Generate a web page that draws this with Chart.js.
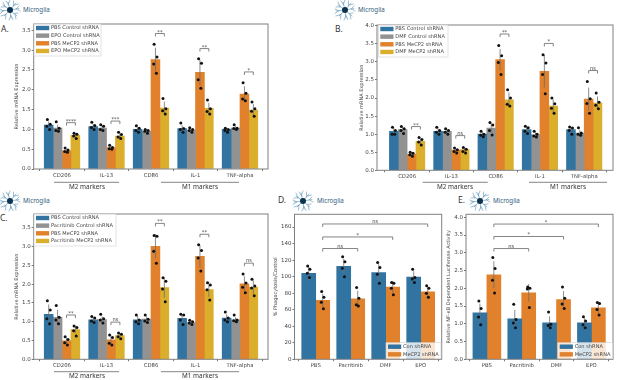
<!DOCTYPE html>
<html lang="en">
<head>
<meta charset="UTF-8">
<title>Microglia mRNA expression panels</title>
<script src="https://cdn.jsdelivr.net/npm/chart.js"></script>
<style>
    body { margin: 0; background: #fff; width: 617px; height: 380px; overflow: hidden; position: relative; }
    canvas { position: absolute; left: 0; top: 0; }
    .letter { position: absolute; font: 8.5px "Noto Sans", sans-serif; color: #333; line-height: 10px; }
    .cell { position: absolute; font: 6.2px "Noto Sans", sans-serif; color: #2f5d7c; line-height: 8px; }
    svg.icon { position: absolute; width: 22px; height: 22px; }
</style>
</head>
<body>
<svg width="0" height="0" style="position:absolute">
    <symbol id="microglia" viewBox="-11 -11 22 22">
        <g stroke="#5b93b5" stroke-width="0.6" fill="none" stroke-linecap="round">
            <path d="M0 0L-2 -8M-1.3 -5L-4 -9M-1.5 -6L0 -10"/>
            <path d="M0 0L6 -7M3.5 -4L3.5 -9M4.5 -5L8.5 -6"/>
            <path d="M0 0L9 -1.5M6 -1L9 -4M6.5 -1L10 1"/>
            <path d="M0 0L7 6M4 3.5L8 3M5 4.5L6 9"/>
            <path d="M0 0L1 8M.6 5L3 9.5M.8 6L-1 10"/>
            <path d="M0 0L-6 6M-4 4L-4.5 9M-4.5 4.5L-9 6"/>
            <path d="M0 0L-9 1M-6 .6L-10 3.5M-6.5 .7L-10 -1"/>
            <path d="M0 0L-7 -5M-4.5 -3.2L-9 -3M-5 -3.6L-7 -8"/>
        </g>
        <circle r="3" fill="#0b3350"/>
    </symbol>
</svg>
<div id="page"></div>
<script>
    // categories and legends
    const markerLabels = ['CD206', 'IL-13', 'CD86', 'IL-1', 'TNF-alpha'];
    const treatmentLabels = ['PBS', 'Pacritinib', 'DMF', 'EPO'];
    const legendA = ['PBS Control shRNA', 'EPO Control shRNA', 'PBS MeCP2 shRNA', 'EPO MeCP2 shRNA'];
    const legendB = ['PBS Control shRNA', 'DMF Control shRNA', 'PBS MeCP2 shRNA', 'DMF MeCP2 shRNA'];
    const legendC = ['PBS Control shRNA', 'Pacritinib Control shRNA', 'PBS MeCP2 shRNA', 'Pacritinib MeCP2 shRNA'];
    const legendDE = ['Con shRNA', 'MeCP2 shRNA'];

    // y tick labels
    const ticks35 = ['0.0', '0.5', '1.0', '1.5', '2.0', '2.5', '3.0', '3.5'];
    const ticks40 = ['0.0', '0.5', '1.0', '1.5', '2.0', '2.5', '3.0', '3.5', '4.0'];
    const ticks160 = ['0', '20', '40', '60', '80', '100', '120', '140', '160'];

    // panel A: one row per marker, one column per series
    const meansA = [[1.11, 1.03, 0.46, 0.85], [1.07, 1.03, 0.54, 0.83], [1.00, 0.95, 2.76, 1.54], [1.02, 0.98, 2.44, 1.53], [1.00, 1.03, 1.89, 1.49]];
    const errorsA = [[0.09, 0.09, 0.04, 0.05], [0.07, 0.07, 0.04, 0.07], [0.06, 0.04, 0.30, 0.16], [0.09, 0.04, 0.32, 0.14], [0.04, 0.05, 0.20, 0.15]];
    const pointsA = [
        [[1.25, 1.13, 1.08, 1.00], [1.19, 1.03, 0.97, 0.95], [0.53, 0.48, 0.44, 0.42], [0.90, 0.88, 0.83, 0.77]],
        [[1.18, 1.10, 1.05, 1.00], [1.12, 1.08, 1.00, 0.97], [0.60, 0.54, 0.51, 0.50], [0.93, 0.87, 0.81, 0.77]],
        [[1.09, 1.03, 0.97, 0.93], [1.00, 0.97, 0.95, 0.90], [3.15, 2.83, 2.65, 2.42], [1.78, 1.52, 1.47, 1.39]],
        [[1.16, 1.02, 1.00, 0.93], [1.04, 1.00, 0.97, 0.93], [2.78, 2.67, 2.25, 2.04], [1.74, 1.52, 1.45, 1.39]],
        [[1.03, 1.00, 0.97, 0.93], [1.12, 1.03, 1.02, 1.00], [2.18, 1.91, 1.77, 1.72], [1.69, 1.52, 1.46, 1.33]]
    ];
    const bracketTopsA = [1.17, 1.21, 3.42, 3.04, 2.45];
    const bracketTextA = ['****', '***', '**', '**', '*'];

    // panel B
    const meansB = [[1.08, 1.13, 0.44, 0.80], [1.08, 1.08, 0.56, 0.57], [1.00, 1.17, 3.06, 1.95], [1.13, 0.98, 2.74, 1.78], [1.13, 1.03, 1.97, 1.86]];
    const errorsB = [[0.09, 0.08, 0.04, 0.07], [0.08, 0.06, 0.05, 0.06], [0.06, 0.14, 0.30, 0.20], [0.09, 0.07, 0.45, 0.18], [0.08, 0.09, 0.32, 0.18]];
    const pointsB = [
        [[1.19, 1.10, 1.00, 1.00], [1.21, 1.15, 1.10, 1.02], [0.50, 0.47, 0.43, 0.39], [0.91, 0.85, 0.78, 0.70]],
        [[1.19, 1.10, 1.05, 1.00], [1.15, 1.10, 1.05, 1.00], [0.62, 0.57, 0.52, 0.48], [0.63, 0.58, 0.52, 0.48]],
        [[1.08, 1.00, 0.97, 0.93], [1.32, 1.25, 1.10, 0.98], [3.45, 3.17, 2.98, 2.65], [2.23, 2.00, 1.83, 1.78]],
        [[1.22, 1.18, 1.08, 1.02], [1.08, 1.00, 0.95, 0.92], [3.20, 2.97, 2.65, 2.12], [2.00, 1.84, 1.72, 1.58]],
        [[1.20, 1.17, 1.10, 1.00], [1.18, 1.03, 1.00, 0.97], [2.46, 1.98, 1.85, 1.58], [2.14, 1.88, 1.80, 1.70]]
    ];
    const bracketTopsB = [1.21, 0.96, 3.77, 3.51, 2.76];
    const bracketTextB = ['**', 'ns', '**', '*', 'ns'];

    // panel C
    const meansC = [[1.20, 1.12, 0.49, 0.79], [1.05, 1.06, 0.52, 0.63], [1.05, 1.07, 3.01, 1.91], [1.09, 0.98, 2.74, 1.86], [1.10, 1.05, 2.01, 1.92]];
    const errorsC = [[0.26, 0.20, 0.08, 0.10], [0.06, 0.08, 0.12, 0.06], [0.10, 0.07, 0.32, 0.27], [0.11, 0.05, 0.30, 0.20], [0.10, 0.07, 0.20, 0.18]];
    const pointsC = [
        [[1.56, 1.31, 1.08, 0.95], [1.43, 1.12, 1.05, 0.95], [0.60, 0.53, 0.44, 0.38], [0.89, 0.85, 0.76, 0.62]],
        [[1.14, 1.10, 1.02, 0.98], [1.20, 1.08, 1.05, 0.97], [0.65, 0.58, 0.43, 0.38], [0.70, 0.67, 0.60, 0.55]],
        [[1.18, 1.05, 1.00, 0.95], [1.18, 1.07, 1.02, 0.98], [3.30, 3.28, 2.88, 2.56], [2.17, 2.08, 1.87, 1.53]],
        [[1.20, 1.18, 1.05, 0.93], [1.04, 1.00, 0.97, 0.93], [3.05, 2.90, 2.70, 2.35], [2.04, 1.98, 1.85, 1.58]],
        [[1.26, 1.10, 1.05, 1.00], [1.18, 1.05, 1.03, 1.00], [2.27, 2.03, 1.92, 1.77], [2.13, 1.95, 1.90, 1.69]]
    ];
    const bracketTopsC = [1.18, 0.99, 3.62, 3.33, 2.56];
    const bracketTextC = ['**', 'ns', '**', '**', 'ns'];

    // panel D: one row per treatment
    const meansD = [[104, 71.4], [112.5, 73], [105, 87.5], [99.6, 81.5]];
    const errorsD = [[8, 8], [9, 10], [10, 7], [7, 6]];
    const pointsD = [
        [[113, 109, 104, 99], [82, 75, 69, 61]],
        [[124, 118, 110, 100], [87, 74, 66, 64.5]],
        [[117, 111, 103, 92], [93, 92, 86, 78]],
        [[109, 99, 97, 93], [89, 86, 80, 75]]
    ];
    const bracketTopsD = [134, 148, 163.7];
    const bracketTextD = ['ns', '*', 'ns'];

    // panel E
    const meansE = [[1.31, 2.38], [1.14, 1.87], [1.03, 1.68], [1.03, 1.45]];
    const errorsE = [[0.26, 0.38], [0.25, 0.25], [0.18, 0.24], [0.13, 0.15]];
    const pointsE = [
        [[1.64, 1.43, 1.19, 0.97], [2.87, 2.56, 2.23, 1.87]],
        [[1.55, 1.12, 1.02, 0.89], [2.04, 2.00, 1.98, 1.46]],
        [[1.33, 0.99, 0.95, 0.89], [2.04, 1.72, 1.56, 1.43]],
        [[1.20, 1.08, 0.97, 0.89], [1.60, 1.57, 1.40, 1.25]]
    ];
    const bracketTopsE = [3.12, 3.46, 3.81];
    const bracketTextE = ['ns', '*', '*'];

    const fourColors = ['#3274a1', '#929292', '#e1812c', '#dbae2c'];
    const twoColors = ['#3274a1', '#e1812c'];
    const fourOffsets = [-0.3, -0.1, 0.1, 0.3];
    const twoOffsets = [-0.2, 0.2];
    const pointJitter = [-0.03, 0.035, -0.04, 0.02];
    const textColor = '#444';
    const fontFamily = '"DejaVu Sans", sans-serif';

    function markerBrackets(tops, text) {
        return tops.map((y, g) => ({ g1: g, s1: 2, g2: g, s2: 3, y: y, text: text[g] }));
    }
    function treatmentBrackets(tops, text) {
        return tops.map((y, i) => ({ g1: 0, s1: 1, g2: i + 1, s2: 1, y: y, text: text[i] }));
    }

    const panels = [
        {
            box: { l: 33.7, t: 24, r: 268, b: 169 }, axisW: 20, yMax: 3.66, yTicks: ticks35, xMin: -0.637, xMax: 4.63,
            labels: markerLabels, offsets: fourOffsets, colors: fourColors, yTitle: 'Relative mRNA Expression',
            means: meansA, errors: errorsA, points: pointsA, brackets: markerBrackets(bracketTopsA, bracketTextA),
            legend: { x: 34, y: 24, w: 67, h: 32, names: legendA },
            groups: [{ text: 'M2 markers', x1: 54, x2: 119, y: 182.3, tx: 87 }, { text: 'M1 markers', x1: 161, x2: 239, y: 182.3, tx: 200 }]
        },
        {
            box: { l: 377, t: 25, r: 613, b: 170.3 }, axisW: 18, yMax: 4.02, yTicks: ticks40, xMin: -0.68, xMax: 4.65,
            labels: markerLabels, offsets: fourOffsets, colors: fourColors, yTitle: 'Relative mRNA Expression',
            means: meansB, errors: errorsB, points: pointsB, brackets: markerBrackets(bracketTopsB, bracketTextB),
            legend: { x: 378.3, y: 25, w: 69.7, h: 32, names: legendB },
            groups: [{ text: 'M2 markers', x1: 422.7, x2: 487.7, y: 182.3, tx: 455 }, { text: 'M1 markers', x1: 529, x2: 607, y: 182.3, tx: 568 }]
        },
        {
            box: { l: 33.7, t: 214, r: 268, b: 359.3 }, axisW: 20, yMax: 3.87, yTicks: ticks35, xMin: -0.637, xMax: 4.63,
            labels: markerLabels, offsets: fourOffsets, colors: fourColors, yTitle: 'Relative mRNA Expression',
            means: meansC, errors: errorsC, points: pointsC, brackets: markerBrackets(bracketTopsC, bracketTextC),
            legend: { x: 34, y: 214, w: 82, h: 32, names: legendC },
            groups: [{ text: 'M2 markers', x1: 54, x2: 119, y: 371.7, tx: 87 }, { text: 'M1 markers', x1: 161, x2: 239, y: 371.7, tx: 200 }]
        },
        {
            box: { l: 294.5, t: 214.3, r: 441.7, b: 359.3 }, axisW: 21.5, yMax: 175.4, yTicks: ticks160, xMin: -0.606, xMax: 3.6,
            labels: treatmentLabels, offsets: twoOffsets, colors: twoColors, yTitle: '% Phagocytosis/Control',
            means: meansD, errors: errorsD, points: pointsD, brackets: treatmentBrackets(bracketTopsD, bracketTextD),
            legend: { x: 386, y: 342.7, w: 55, h: 15.8, names: legendDE },
            groups: []
        },
        {
            box: { l: 466, t: 214.3, r: 613.7, b: 359.3 }, axisW: 20, yMax: 4.085, yTicks: ticks40, xMin: -0.6, xMax: 3.62,
            labels: treatmentLabels, offsets: twoOffsets, colors: twoColors, yTitle: 'Relative NF-κB Dependent Luciferase Activity',
            means: meansE, errors: errorsE, points: pointsE, brackets: treatmentBrackets(bracketTopsE, bracketTextE),
            legend: { x: 557.7, y: 342.7, w: 55, h: 15.8, names: legendDE },
            groups: []
        }
    ];

    const annotations = [
        { letter: 'A.', lx: 1, ly: 24, ix: 10, iy: 10, tx: 23 },
        { letter: 'B.', lx: 335, ly: 24, ix: 345, iy: 10, tx: 358 },
        { letter: 'C.', lx: 0, ly: 213, ix: 10, iy: 200.5, tx: 23 },
        { letter: 'D.', lx: 278, ly: 195, ix: 303, iy: 200.5, tx: 317 },
        { letter: 'E.', lx: 458, ly: 195, ix: 480, iy: 200.5, tx: 493 }
    ];

    const panelDecor = {
        id: 'panelDecor',
        // error bars go under the points dataset, which is drawn last
        beforeDatasetDraw(chart, args) {
            if (args.index !== 0) return;
            const p = chart.config.options.plugins.panelDecor.panel;
            const ctx = chart.ctx, x = chart.scales.x, y = chart.scales.y;
            ctx.save();
            ctx.strokeStyle = '#6e6e6e';
            ctx.lineWidth = 0.8;
            p.means.forEach((row, g) => row.forEach((m, s) => {
                const px = x.getPixelForValue(g + p.offsets[s]);
                ctx.beginPath();
                ctx.moveTo(px, y.getPixelForValue(m - p.errors[g][s]));
                ctx.lineTo(px, y.getPixelForValue(m + p.errors[g][s]));
                ctx.stroke();
            }));
            ctx.restore();
        },
        afterDraw(chart) {
            const p = chart.config.options.plugins.panelDecor.panel;
            const ctx = chart.ctx, x = chart.scales.x, y = chart.scales.y, a = chart.chartArea;
            ctx.save();
            // axes frame
            ctx.strokeStyle = '#808080';
            ctx.lineWidth = 1;
            ctx.strokeRect(a.left, a.top, a.right - a.left, a.bottom - a.top);

            // significance brackets
            ctx.strokeStyle = '#666';
            ctx.lineWidth = 0.8;
            ctx.fillStyle = textColor;
            ctx.textAlign = 'center';
            ctx.textBaseline = 'alphabetic';
            ctx.font = '5.2px ' + fontFamily;
            p.brackets.forEach(b => {
                const x1 = x.getPixelForValue(b.g1 + p.offsets[b.s1]);
                const x2 = x.getPixelForValue(b.g2 + p.offsets[b.s2]);
                const py = y.getPixelForValue(b.y);
                ctx.beginPath();
                ctx.moveTo(x1, py + 3);
                ctx.lineTo(x1, py);
                ctx.lineTo(x2, py);
                ctx.lineTo(x2, py + 3);
                ctx.stroke();
                ctx.fillText(b.text, (x1 + x2) / 2, py - (b.text === 'ns' ? 1 : 0));
            });

            // legend, above the bars
            const lg = p.legend;
            ctx.fillStyle = 'rgba(255,255,255,0.8)';
            ctx.strokeStyle = '#d0d0d0';
            ctx.lineWidth = 0.6;
            ctx.fillRect(lg.x, lg.y, lg.w, lg.h);
            ctx.strokeRect(lg.x, lg.y, lg.w, lg.h);
            ctx.textAlign = 'left';
            ctx.textBaseline = 'middle';
            ctx.font = '5.1px ' + fontFamily;
            lg.names.forEach((name, i) => {
                const ry = lg.y + 4 + 7.65 * i;
                ctx.fillStyle = p.colors[i];
                ctx.fillRect(lg.x + 2, ry - 2.2, 13.2, 4.4);
                ctx.fillStyle = textColor;
                ctx.fillText(name, lg.x + 17, ry);
            });

            // marker group captions under the axis
            ctx.strokeStyle = '#666';
            ctx.lineWidth = 0.8;
            ctx.textAlign = 'center';
            ctx.font = '6.4px "Noto Sans", sans-serif';
            ctx.fillStyle = '#333';
            p.groups.forEach(gr => {
                ctx.beginPath();
                ctx.moveTo(gr.x1, gr.y);
                ctx.lineTo(gr.x2, gr.y);
                ctx.stroke();
                ctx.fillText(gr.text, gr.tx, gr.y + 4.5);
            });
            ctx.restore();
        }
    };

    const page = document.getElementById('page');

    annotations.forEach(an => {
        page.insertAdjacentHTML('beforeend',
            '<div class="letter" style="left:' + an.lx + 'px;top:' + an.ly + 'px">' + an.letter + '</div>' +
            '<svg class="icon" style="left:' + (an.ix - 11) + 'px;top:' + (an.iy - 11) + 'px"><use href="#microglia"/></svg>' +
            '<div class="cell" style="left:' + an.tx + 'px;top:' + (an.iy - 4) + 'px">Microglia</div>');
    });

    panels.forEach(p => {
        const canvas = document.createElement('canvas');
        canvas.width = 617;
        canvas.height = 380;
        page.appendChild(canvas);

        const spacing = (p.box.r - p.box.l) / (p.xMax - p.xMin);
        const barWidth = Math.abs(p.offsets[1] - p.offsets[0]) * spacing;
        const axisH = 15;

        const scatter = [];
        p.points.forEach((row, g) => row.forEach((vals, s) => vals.forEach((v, k) => {
            scatter.push({ x: g + p.offsets[s] + pointJitter[k], y: v });
        })));

        const datasets = [{
            type: 'scatter',
            data: scatter,
            backgroundColor: '#111',
            borderWidth: 0,
            pointRadius: 1.5,
            showLine: false,
            order: 0
        }];
        p.offsets.forEach((off, s) => {
            datasets.push({
                type: 'bar',
                label: p.legend.names[s],
                data: p.means.map((row, g) => ({ x: g + off, y: row[s] })),
                backgroundColor: p.colors[s],
                barThickness: barWidth,
                grouped: false,
                order: 1
            });
        });

        new Chart(canvas.getContext('2d'), {
            type: 'bar',
            data: { datasets: datasets },
            plugins: [panelDecor],
            options: {
                responsive: false,
                animation: false,
                events: [],
                layout: {
                    padding: {
                        left: p.box.l - p.axisW,
                        top: p.box.t,
                        right: 617 - p.box.r,
                        bottom: 380 - p.box.b - axisH
                    }
                },
                plugins: {
                    legend: { display: false },
                    tooltip: { enabled: false },
                    panelDecor: { panel: p }
                },
                scales: {
                    x: {
                        type: 'linear',
                        min: p.xMin,
                        max: p.xMax,
                        offset: false,
                        border: { display: false },
                        grid: { drawOnChartArea: false, drawTicks: true, tickLength: 2, color: '#777' },
                        afterBuildTicks: s => { s.ticks = p.labels.map((_, i) => ({ value: i })); },
                        afterFit: s => {
                            s.height = axisH;
                            s.paddingLeft = s.paddingRight = 0;
                        },
                        ticks: {
                            autoSkip: false,
                            maxRotation: 0,
                            padding: 1.5,
                            color: textColor,
                            font: { size: 5.3, family: fontFamily },
                            callback: v => p.labels[v]
                        }
                    },
                    y: {
                        min: 0,
                        max: p.yMax,
                        border: { display: false },
                        grid: { drawOnChartArea: false, drawTicks: true, tickLength: 2, color: '#777' },
                        afterBuildTicks: s => { s.ticks = p.yTicks.map(t => ({ value: Number(t) })); },
                        afterFit: s => {
                            s.width = p.axisW;
                            s.paddingTop = s.paddingBottom = 0;
                        },
                        title: {
                            display: true,
                            text: p.yTitle,
                            color: textColor,
                            padding: 0,
                            font: { size: 5, family: fontFamily }
                        },
                        ticks: {
                            autoSkip: false,
                            padding: 1,
                            color: textColor,
                            font: { size: 5.5, family: fontFamily },
                            callback: v => p.yTicks.find(t => Number(t) === v)
                        }
                    }
                }
            }
        });
    });
</script>
</body>
</html>
